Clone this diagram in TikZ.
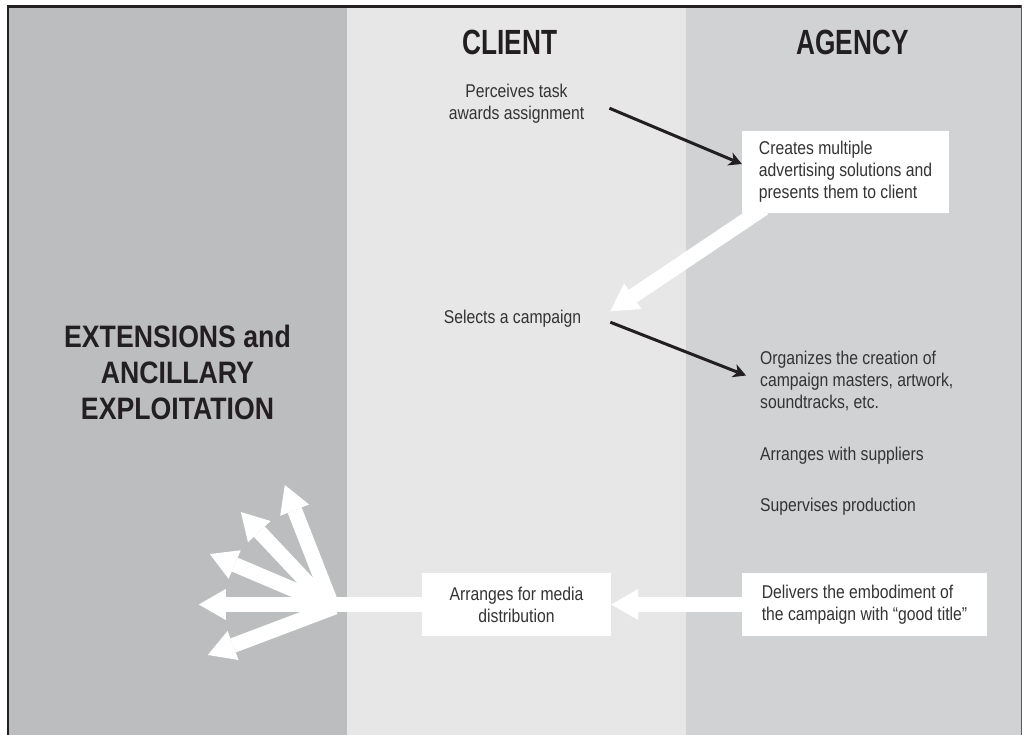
\documentclass[tikz,border=0pt]{standalone}
\usepackage{fontspec}
\setmainfont{Liberation Sans}[FakeStretch=0.85]
\newfontfamily\headfont{Liberation Sans}[FakeStretch=0.75]
\newfontfamily\extfont{Liberation Sans}[FakeStretch=0.86]
\usetikzlibrary{arrows.meta,calc}
\pgfdeclarelayer{bglayer}
\pgfdeclarelayer{arrlayer}
\pgfsetlayers{bglayer,arrlayer,main}
\definecolor{lp}{HTML}{BCBDBF}
\definecolor{mp}{HTML}{E6E7E6}
\definecolor{rp}{HTML}{D1D2D4}
\definecolor{txt}{HTML}{333333}
\definecolor{hd}{HTML}{231F20}
\begin{document}
\begin{tikzpicture}[x=1pt,y=-1pt,
  body/.style={font=\fontsize{18.5}{22}\selectfont, text=txt, inner sep=0pt},
  head/.style={font=\headfont\bfseries\fontsize{35}{40}\selectfont, text=hd, inner sep=0pt},
  ext/.style={font=\extfont\bfseries\fontsize{31}{36}\selectfont, text=hd, inner sep=0pt},
  wbox/.style={body, fill=white, align=left},
  blk/.style={line width=3pt, draw=hd, -{Stealth[length=13pt,width=14pt,inset=4pt,line width=0pt]}},
  wht/.style={line width=15pt, draw=white, -{Triangle[length=27pt,width=31pt,line width=0pt]}},
  wline/.style={line width=15pt, draw=white}
]
\useasboundingbox (0,0) rectangle (1024,735);
\begin{pgfonlayer}{bglayer}
  \fill[lp] (9,7) rectangle (347,735);
  \fill[mp] (347,7) rectangle (686,735);
  \fill[rp] (686,7) rectangle (1022,735);
  \draw[line width=2.7pt, hd] (8,735) -- (8,6.3) -- (1022,6.3);
  \draw[line width=1.5pt, black!65] (1021.7,5) -- (1021.7,735);
\end{pgfonlayer}

\node[head, anchor=base] (client) at (510,55) {CLIENT};
\node[head, anchor=base] (agency) at (852.5,55) {AGENCY};
\node[ext, anchor=base, align=center] (ext) at (177.5,419) {EXTENSIONS and\\ANCILLARY\\EXPLOITATION};

\node[body, anchor=base, align=center] (per) at (516.5,120) {Perceives task\\awards assignment};
\node[wbox, minimum width=207pt, minimum height=82pt] (cre) at (845.5,172) {Creates multiple\\advertising solutions and\\presents them to client};
\node[body, anchor=base] (sel) at (512.5,323) {Selects a campaign};
\node[body, anchor=base west, align=left] (org) at (760,408) {Organizes the creation of\\campaign masters, artwork,\\soundtracks, etc.};
\node[body, anchor=base west] (sup) at (760,460) {Arranges with suppliers};
\node[body, anchor=base west] (prod) at (760,511) {Supervises production};
\node[wbox, align=center, minimum width=189pt, minimum height=63pt] (arr) at (516.5,604.5) {Arranges for media\\distribution};
\node[wbox, minimum width=245pt, minimum height=63pt] (del) at (864.5,604.5) {Delivers the embodiment of\\the campaign with “good title”};

\draw[blk] ([xshift=25pt,yshift=-4pt]per.east) -- ([yshift=8pt]cre.west);
\draw[blk] ([xshift=29pt,yshift=-4pt]sel.east) -- ([xshift=-14pt,yshift=5pt]org.west);

\begin{pgfonlayer}{arrlayer}
  \draw[wht] ([xshift=22pt,yshift=5pt]cre.south west) -- ([xshift=29pt,yshift=7pt]sel.east);
  \draw[wht] (del.west) -- (arr.east);
  \coordinate (hub) at ([xshift=-89pt]arr.west);
  \draw[wline] (arr.west) -- (hub);
  \coordinate (f1) at ($(hub)+(-48,-119.5)$);
  \coordinate (f2) at ($(hub)+(-92,-92.5)$);
  \coordinate (f3) at ($(hub)+(-123,-50.5)$);
  \coordinate (f4) at ($(hub)+(-134,0)$);
  \coordinate (f5) at ($(hub)+(-125,50.5)$);
  \draw[wht] ($(hub)+(-3,-4.5)$) -- (f1);
  \draw[wht] ($(hub)+(-11,-6.5)$) -- (f2);
  \draw[wht] ($(hub)+(-3,0.5)$) -- (f3);
  \draw[wht] ($(hub)+(2,0)$) -- (f4);
  \draw[wht] ($(hub)+(2,2.5)$) -- (f5);
\end{pgfonlayer}
\end{tikzpicture}
\end{document}
